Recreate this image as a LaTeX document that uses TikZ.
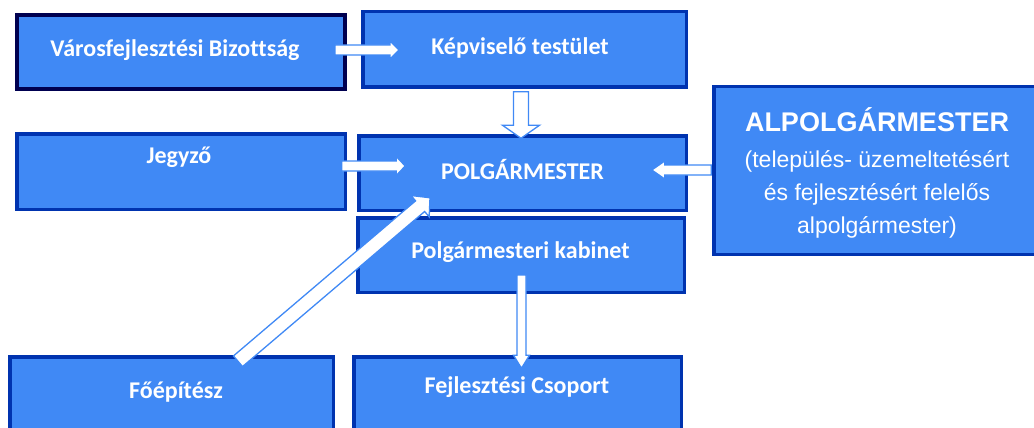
\documentclass[tikz,border=0pt]{standalone}
\usepackage{fontspec}
\setmainfont{Carlito}[Ligatures=NoCommon]
\newfontfamily\arialf{Liberation Sans}
\usetikzlibrary{calc}
\definecolor{boxfill}{RGB}{64,137,245}
\definecolor{boxline}{RGB}{0,51,175}
\definecolor{navyline}{RGB}{0,0,80}
\definecolor{arrline}{RGB}{64,137,245}
\tikzset{
  box/.style={rectangle, draw=boxline, line width=3.5pt, fill=boxfill, inner sep=0pt},
  navybox/.style={box, draw=navyline, line width=4pt},
  lbl/.style={text=white, font=\fontsize{24}{28}\selectfont\bfseries, anchor=base, inner sep=0pt},
  blockarr/.style={fill=white, draw=arrline, line width=1.3pt, line join=miter},
}
\newcommand\blockarrow[5]{%
  \coordinate (bah) at ($(#2)!#5!(#1)$);
  \draw[blockarr] ($(#1)!#3!90:(#2)$) -- ($(bah)!#3!-90:(#1)$) -- ($(bah)!#4!-90:(#1)$)
    -- (#2) -- ($(bah)!#4!90:(#1)$) -- ($(bah)!#3!90:(#1)$) -- ($(#1)!#3!-90:(#2)$) -- cycle;
}
\begin{document}
\begin{tikzpicture}[x=1pt,y=-1pt]
\useasboundingbox (0,0) rectangle (1034,428);
% boxes
\node[navybox, minimum width=328pt, minimum height=74pt] (vb) at (181,52) {};
\node[box, minimum width=323.5pt, minimum height=75.5pt] (kt) at (524.5,49.5) {};
\node[box, minimum width=328.5pt, minimum height=75.5pt] (jz) at (181,171.5) {};
\node[box, minimum width=327.5pt, minimum height=74.5pt] (pm) at (522.5,173) {};
\node[box, minimum width=326.5pt, minimum height=74.5pt] (kb) at (521,255) {};
\node[box, minimum width=329.5pt, minimum height=167.5pt] (ap) at (878.5,170.5) {};
\node[box, minimum width=323.5pt, minimum height=91.5pt] (fe) at (171.5,402.5) {};
\node[box, minimum width=327.5pt, minimum height=91.5pt] (fc) at (517.5,402.5) {};
% texts
\node[lbl] (vbt) at (175,57) {Városfejlesztési Bizottság};
\node[lbl] (ktt) at (520,55) {Képviselő testület};
\node[lbl] (jzt) at (179,163) {Jegyző};
\node[lbl] (pmt) at (522.5,179) {POLGÁRMESTER};
\node[lbl] (kbt) at (520.5,258) {Polgármesteri kabinet};
\node[lbl] (fet) at (176,398) {Főépítész};
\node[lbl] (fct) at (517,393) {Fejlesztési Csoport};
\node[text=white, anchor=base, inner sep=0pt, align=center, font=\arialf\fontsize{23}{33}\selectfont] (apt) at (877,233)
  {{\fontsize{27}{30}\selectfont\bfseries ALPOLGÁRMESTER}\\[3pt](település- üzemeltetésért\\és fejlesztésért felelős\\alpolgármester)};
% arrow end points
\coordinate (a1s) at ($(vb.east)+(-12,-2)$);
\coordinate (a1e) at ($(kt.west)+(38,0.5)$);
\coordinate (a2s) at ($(kt.south)+(-3.5,2.75)$);
\coordinate (a2e) at ($(pm.north)+(-1.5,4.25)$);
\coordinate (a3s) at ($(jz.east)+(-5.25,-5.5)$);
\coordinate (a3e) at ($(pm.west)+(48.25,-7)$);
\coordinate (a4s) at ($(ap.west)+(-0.75,-0.5)$);
\coordinate (a4e) at ($(pm.east)+(-36.25,-3)$);
\coordinate (a5s) at ($(fe.north)+(66.5,6.25)$);
\coordinate (a5e) at ($(pm.south)+(-92.5,-14.25)$);
\coordinate (a6s) at ($(kb.center)+(0.5,20)$);
\coordinate (a6e) at ($(fc.north)+(4,13.25)$);
% arrows
\blockarrow{a1s}{a1e}{5pt}{9pt}{9pt}
\blockarrow{a2s}{a2e}{7.5pt}{18.5pt}{13pt}
\blockarrow{a3s}{a3e}{5pt}{9.5pt}{9pt}
\blockarrow{a4s}{a4e}{5pt}{9pt}{13pt}
\blockarrow{a5s}{a5e}{7pt}{14pt}{13pt}
\blockarrow{a6s}{a6e}{4.5pt}{8pt}{13pt}
\end{tikzpicture}
\end{document}
